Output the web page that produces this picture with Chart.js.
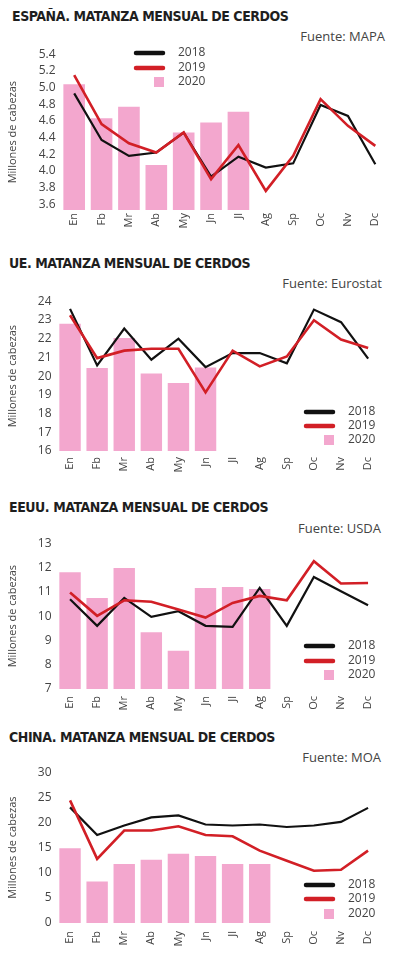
<!DOCTYPE html>
<html>
<head>
<meta charset="utf-8">
<script src="https://cdn.jsdelivr.net/npm/chart.js@4.4.0/dist/chart.umd.min.js"></script>
<style>
  body { margin: 0; background: #fff; }
  #page { position: relative; width: 395px; height: 972px; overflow: hidden; background: #fff; font-family: "Open Sans", sans-serif; }
  .title { position: absolute; left: 9px; font: bold 14px "DejaVu Sans Condensed", "DejaVu Sans", sans-serif; font-stretch: condensed; letter-spacing: -0.45px; color: #1e1e1e; white-space: nowrap; line-height: 16px; }
  .src { position: absolute; font-size: 13px; color: #444; white-space: nowrap; line-height: 16px; }
  canvas { position: absolute; left: 0; }
</style>
</head>
<body>
<div id="page">
  <div class="title" style="top:8px;left:12px">ESPAÑA. MATANZA MENSUAL DE CERDOS</div>
  <div class="src" style="top:28px;right:10px">Fuente: MAPA</div>
  <canvas id="c1"></canvas>

  <div class="title" style="top:255px">UE. MATANZA MENSUAL DE CERDOS</div>
  <div class="src" style="top:275px;right:13px">Fuente: Eurostat</div>
  <canvas id="c2"></canvas>

  <div class="title" style="top:499px">EEUU. MATANZA MENSUAL DE CERDOS</div>
  <div class="src" style="top:520px;right:14px">Fuente: USDA</div>
  <canvas id="c3"></canvas>

  <div class="title" style="top:729px">CHINA. MATANZA MENSUAL DE CERDOS</div>
  <div class="src" style="top:749px;right:14px">Fuente: MOA</div>
  <canvas id="c4"></canvas>
</div>
<script>
// Data (millones de cabezas)
const months = ['En', 'Fb', 'Mr', 'Ab', 'My', 'Jn', 'Jl', 'Ag', 'Sp', 'Oc', 'Nv', 'Dc'];

const esp2018 = [4.93, 4.37, 4.18, 4.22, 4.46, 3.93, 4.17, 4.04, 4.09, 4.79, 4.66, 4.08];
const esp2019 = [5.15, 4.56, 4.33, 4.22, 4.46, 3.90, 4.31, 3.76, 4.18, 4.86, 4.54, 4.30];
const esp2020 = [5.04, 4.63, 4.77, 4.07, 4.46, 4.58, 4.71];
const espTicks = [3.6, 3.8, 4.0, 4.2, 4.4, 4.6, 4.8, 5.0, 5.2, 5.4];

const ue2018 = [23.59, 20.57, 22.54, 20.88, 22.0, 20.48, 21.23, 21.23, 20.68, 23.55, 22.88, 20.93];
const ue2019 = [23.25, 20.96, 21.36, 21.46, 21.46, 19.13, 21.36, 20.52, 21.05, 22.98, 21.95, 21.5];
const ue2020 = [22.79, 20.43, 22.04, 20.14, 19.63, 20.46];
const ueTicks = [16, 17, 18, 19, 20, 21, 22, 23, 24];

const us2018 = [10.69, 9.60, 10.75, 9.97, 10.20, 9.60, 9.56, 11.16, 9.60, 11.61, 11.02, 10.45];
const us2019 = [10.97, 10.01, 10.65, 10.59, 10.27, 9.94, 10.54, 10.83, 10.65, 12.26, 11.34, 11.36];
const us2020 = [11.80, 10.75, 11.98, 9.34, 8.57, 11.16, 11.20, 11.12];
const usTicks = [7, 8, 9, 10, 11, 12, 13];

const cn2018 = [23.0, 17.5, 19.4, 21.0, 21.4, 19.6, 19.4, 19.6, 19.1, 19.4, 20.1, 22.9];
const cn2019 = [24.4, 12.75, 18.4, 18.4, 19.25, 17.5, 17.25, 14.4, 12.4, 10.4, 10.6, 14.4];
const cn2020 = [14.87, 8.24, 11.75, 12.6, 13.8, 13.35, 11.75, 11.75];
const cnTicks = [0, 5, 10, 15, 20, 25, 30];

const BLACK = '#111111';
const RED = '#d21f26';
const PINK = '#f3a7ce';
const TEXT = '#444';
const PAD_TOP = 12;
const X_AXIS_H = 40;

// legend drawn inside the plot, lines on the left, labels to the right
const cornerLegend = {
  id: 'cornerLegend',
  afterDraw(chart, args, opts) {
    const ctx = chart.ctx;
    const off = chart.canvas.offsetTop;
    ctx.save();
    ctx.font = '12px "Open Sans"';
    ctx.textBaseline = 'middle';
    chart.data.datasets.forEach((ds, i) => {
      const y = opts.rows[i] - off;
      if (ds.type === 'line') {
        ctx.strokeStyle = ds.borderColor;
        ctx.lineWidth = 4.5;
        ctx.lineCap = 'round';
        ctx.beginPath();
        ctx.moveTo(opts.x, y);
        ctx.lineTo(opts.x + 27, y);
        ctx.stroke();
      } else {
        ctx.fillStyle = ds.backgroundColor;
        ctx.fillRect(opts.x + 18, y - 5, 10, 10);
      }
      ctx.fillStyle = TEXT;
      ctx.fillText(ds.label, opts.textX, y);
    });
    ctx.restore();
  }
};

function makeChart(id, o) {
  const cv = document.getElementById(id);
  const top = o.area.top - PAD_TOP;
  cv.style.top = top + 'px';
  cv.width = 395;
  cv.height = Math.round(o.area.bottom - o.area.top + PAD_TOP + X_AXIS_H);

  return new Chart(cv, {
    type: 'bar',
    data: {
      labels: months,
      datasets: [
        { type: 'line', label: '2018', data: o.s18, borderColor: BLACK, borderWidth: 2.2, pointRadius: 0, tension: 0, order: 1 },
        { type: 'line', label: '2019', data: o.s19, borderColor: RED, borderWidth: 2.6, pointRadius: 0, tension: 0, order: 0 },
        { type: 'bar', label: '2020', data: o.s20, backgroundColor: PINK, barPercentage: 0.79, categoryPercentage: 1, order: 2 }
      ]
    },
    options: {
      responsive: false,
      animation: false,
      devicePixelRatio: 1,
      layout: { padding: { top: PAD_TOP, left: 0, right: 395 - o.area.right, bottom: 0 } },
      plugins: {
        legend: { display: false },
        tooltip: { enabled: false },
        cornerLegend: o.legend
      },
      scales: {
        x: {
          grid: { display: false, drawTicks: false },
          border: { display: false },
          ticks: { color: TEXT, font: { family: 'Open Sans', size: 11 }, maxRotation: 90, minRotation: 90, autoSkip: false, padding: o.xPad },
          afterFit: s => { s.height = X_AXIS_H; }
        },
        y: {
          min: o.min,
          max: o.max,
          grid: { display: false, drawTicks: false },
          border: { display: false },
          afterBuildTicks: s => { s.ticks = o.ticks.map(v => ({ value: v })); },
          afterFit: s => { s.width = o.area.left; },
          ticks: {
            color: TEXT,
            font: { family: 'Open Sans', size: 12 },
            padding: 5,
            autoSkip: false,
            callback: v => v.toFixed(o.dec)
          },
          title: {
            display: true,
            text: 'Millones de cabezas',
            color: TEXT,
            font: { family: 'Open Sans', size: 11 },
            padding: { top: 6, bottom: 0 }
          }
        }
      }
    },
    plugins: [cornerLegend]
  });
}

makeChart('c1', {
  s18: esp2018, s19: esp2019, s20: esp2020, ticks: espTicks, min: 3.53, max: 5.4, dec: 1, xPad: 3,
  area: { top: 54, bottom: 210, left: 60.5, right: 389 },
  legend: { x: 136, textX: 178, rows: [53, 68, 82] }
});
makeChart('c2', {
  s18: ue2018, s19: ue2019, s20: ue2020, ticks: ueTicks, min: 16, max: 24, dec: 0, xPad: 6,
  area: { top: 300.7, bottom: 451, left: 56.5, right: 381.7 },
  legend: { x: 306, textX: 348, rows: [412, 426, 440] }
});
makeChart('c3', {
  s18: us2018, s19: us2019, s20: us2020, ticks: usTicks, min: 7, max: 13, dec: 0, xPad: 7,
  area: { top: 543.3, bottom: 689.5, left: 56.5, right: 381.6 },
  legend: { x: 306, textX: 348, rows: [646, 661, 675] }
});
makeChart('c4', {
  s18: cn2018, s19: cn2019, s20: cn2020, ticks: cnTicks, min: 0, max: 30, dec: 0, xPad: 8,
  area: { top: 771.7, bottom: 923, left: 56.5, right: 381.6 },
  legend: { x: 306, textX: 348, rows: [885, 899, 914] }
});
</script>
</body>
</html>
